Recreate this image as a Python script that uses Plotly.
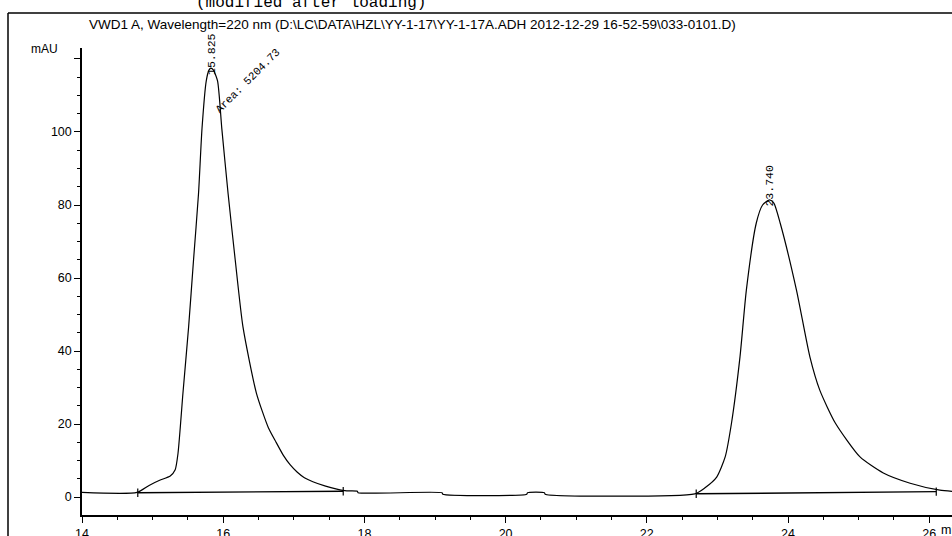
import plotly.graph_objects as go

# ---- data ----
time_min = [14.00, 14.78, 14.95, 15.10, 15.25, 15.32, 15.36, 15.43, 15.51, 15.58, 15.65,
            15.70, 15.76, 15.80, 15.825, 15.86, 15.92, 15.98, 16.07, 16.17, 16.28,
            16.47, 16.64, 16.75, 16.85, 16.95, 17.05, 17.15, 17.27, 17.45, 17.61, 17.75, 17.90,
            17.91, 19.10, 19.11, 20.30, 20.31, 20.55, 20.56, 22.68, 22.82, 22.99,
            23.11, 23.20, 23.32, 23.41, 23.55, 23.64, 23.74, 23.80, 23.89, 24.12,
            24.31, 24.45, 24.67, 25.02, 25.35, 25.73, 26.15, 26.40]
signal_mau = [1.3, 1.3, 3.2, 4.6, 5.8, 7.5, 12.0, 28.5, 46.6, 65.0, 83.0,
              101.0, 114.0, 117.0, 117.5, 117.0, 114.0, 101.0, 83.0, 65.0, 46.6,
              28.5, 19.0, 15.0, 11.5, 8.8, 6.8, 5.3, 4.2, 3.0, 2.2, 1.7, 1.6,
              1.2, 1.2, 0.8, 0.8, 1.2, 1.2, 0.8, 0.9, 2.5, 5.5,
              11.0, 20.3, 38.4, 56.7, 75.0, 80.0, 81.4, 80.5, 75.0, 56.7,
              38.4, 29.3, 20.3, 11.0, 6.6, 3.8, 1.9, 1.5]

# integration baselines (start, end) for each peak
bl_start_t = [14.79, 22.70]
bl_start_v = [1.2, 0.9]
bl_end_t = [17.70, 26.10]
bl_end_v = [1.6, 1.5]

peak_rt = [15.825, 23.740]
peak_h = [117.5, 81.4]
peak_labels = ["15.825", "23.740"]
area_label = "Area: 5204.73"

x_ticks = [14, 16, 18, 20, 22, 24, 26]
y_ticks = [0, 20, 40, 60, 80, 100, 120]
y_ticktext = ["0", "20", "40", "60", "80", "100", ""]

title_text = "(modified after loading)"
header_text = ("VWD1 A, Wavelength=220 nm (D:\\LC\\DATA\\HZL\\YY-1-17\\YY-1-17A.ADH "
               "2012-12-29 16-52-59\\033-0101.D)")

# ---- layout geometry ----
FW, FH = 952, 536
L, T, R, B = 82, 48, 0, 21
W = FW - L - R
H = FH - T - B


def px(x):
    return (x - L) / W


def py(y):
    return (T + H - y) / H


BLACK = "#000000"
SANS = "Liberation Sans, Arial, sans-serif"
MONO = "Liberation Mono, Courier New, monospace"

fig = go.Figure()

fig.add_trace(go.Scatter(x=time_min, y=signal_mau, mode="lines",
                         line=dict(color=BLACK, width=1.2, shape="spline", smoothing=0.6),
                         showlegend=False, hoverinfo="skip"))

for i in range(len(bl_start_t)):
    fig.add_trace(go.Scatter(x=[bl_start_t[i], bl_end_t[i]], y=[bl_start_v[i], bl_end_v[i]],
                             mode="lines+markers",
                             line=dict(color=BLACK, width=1.4),
                             marker=dict(symbol="line-ns", size=6,
                                         line=dict(color=BLACK, width=1.2)),
                             showlegend=False, hoverinfo="skip"))

annotations = []
for t, h, lab in zip(peak_rt, peak_h, peak_labels):
    annotations.append(dict(x=t, y=h, xref="x", yref="y", text=lab, showarrow=False,
                            textangle=-90, xanchor="center", yanchor="bottom", yshift=-9,
                            font=dict(family=MONO, size=11.5, color=BLACK)))
annotations.append(dict(x=16.35, y=114, xref="x", yref="y", text=area_label, showarrow=False,
                        textangle=-45, xanchor="center", yanchor="middle",
                        font=dict(family=MONO, size=11, color=BLACK)))
annotations.append(dict(x=px(311), y=py(3), xref="paper", yref="paper", text=title_text,
                        showarrow=False, xanchor="center", yanchor="middle",
                        font=dict(family=MONO, size=16, color=BLACK)))
annotations.append(dict(x=px(87), y=py(24), xref="paper", yref="paper", text=header_text,
                        showarrow=False, xanchor="left", yanchor="middle",
                        font=dict(family=SANS, size=13.5, color=BLACK)))
annotations.append(dict(x=px(44), y=py(49), xref="paper", yref="paper", text="mAU",
                        showarrow=False, xanchor="center", yanchor="middle",
                        font=dict(family=SANS, size=12, color=BLACK)))
annotations.append(dict(x=px(939), y=py(530), xref="paper", yref="paper", text="min",
                        showarrow=False, xanchor="left", yanchor="middle",
                        font=dict(family=SANS, size=12.5, color=BLACK)))

shapes = [
    dict(type="line", xref="paper", yref="paper", x0=px(8), x1=px(8), y0=py(540), y1=py(13),
         line=dict(color=BLACK, width=1.5)),
    dict(type="line", xref="paper", yref="paper", x0=px(8), x1=px(960), y0=py(13), y1=py(13),
         line=dict(color=BLACK, width=1.5)),
]

fig.update_layout(
    width=FW, height=FH,
    margin=dict(l=L, r=R, t=T, b=B, autoexpand=False),
    paper_bgcolor="white", plot_bgcolor="white",
    showlegend=False,
    annotations=annotations,
    shapes=shapes,
    font=dict(family=SANS, size=12.5, color=BLACK),
)

fig.update_xaxes(range=[14, 14 + W / 70.6], showgrid=False, zeroline=False,
                 showline=True, linecolor=BLACK, linewidth=1.5,
                 tickmode="array", tickvals=x_ticks, ticks="outside", ticklen=6,
                 tickcolor=BLACK, tickwidth=1.3, ticklabelstandoff=0,
                 tickfont=dict(family=SANS, size=12.5, color=BLACK),
                 minor=dict(dtick=0.5, tick0=14, ticks="outside", ticklen=3,
                            tickcolor=BLACK, tickwidth=1.3, showgrid=False),
                 automargin=False, fixedrange=True)
fig.update_yaxes(range=[-4.9, 123], showgrid=False, zeroline=False,
                 showline=True, linecolor=BLACK, linewidth=1.5,
                 tickmode="array", tickvals=y_ticks, ticktext=y_ticktext,
                 ticks="outside", ticklen=6, tickcolor=BLACK, tickwidth=1.3,
                 tickfont=dict(family=SANS, size=12.5, color=BLACK),
                 minor=dict(dtick=5, tick0=0, ticks="outside", ticklen=3,
                            tickcolor=BLACK, tickwidth=1.3, showgrid=False),
                 automargin=False, fixedrange=True)

fig.write_html("out.html", config={"displayModeBar": False},
               post_script="document.body.style.margin='0';document.body.style.overflow='hidden';")
